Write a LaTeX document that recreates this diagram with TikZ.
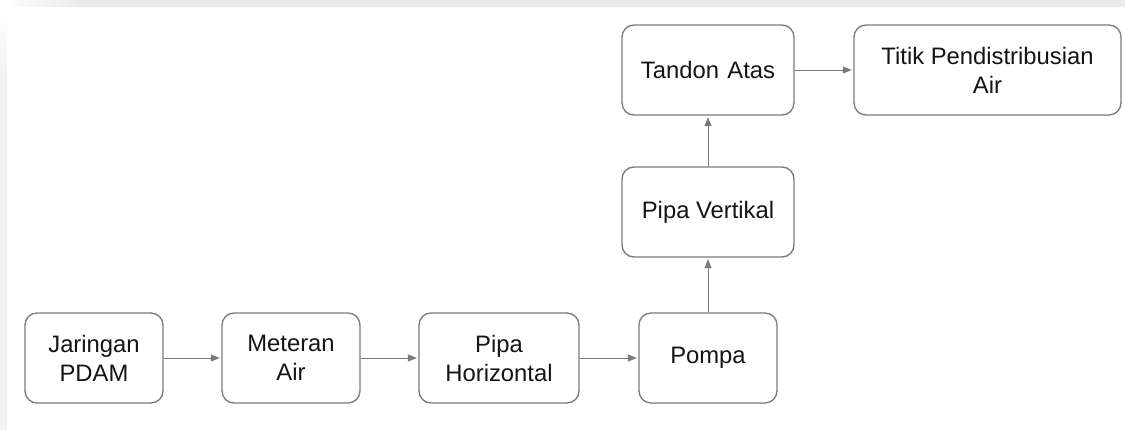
\documentclass[tikz,border=0pt]{standalone}
\usepackage{fontspec}
\setmainfont{Liberation Sans}
\usetikzlibrary{arrows.meta}
\definecolor{boxline}{HTML}{7A7A7A}
\definecolor{arrowline}{HTML}{7A7A7A}
\definecolor{txt}{HTML}{141414}
\definecolor{frame}{HTML}{EBEBEB}
\tikzset{
  x=1pt, y=-1pt,
  stage/.style={draw=boxline, line width=1.3pt, rounded corners=12pt,
    fill=white, text=txt, align=center, inner sep=0pt,
    font=\fontsize{23.8}{29}\selectfont},
  flow/.style={draw=arrowline, line width=0.9pt,
    -{Triangle[length=9pt,width=7pt]}, shorten >=1.5pt}
}
\begin{document}
\begin{tikzpicture}
\useasboundingbox (0,0) rectangle (1125,430);
\fill[white] (0,0) rectangle (1125,430);
% light frame along the top and left edges
\fill[frame] (80,0) rectangle (1125,7);
\shade[left color=white, right color=frame] (0,0) rectangle (80,7);
\shade[top color=white, bottom color=frame!70] (0,7) rectangle (7,80);
\fill[frame!70] (0,80) rectangle (7,430);

\node[stage, minimum width=138pt, minimum height=90pt] (pdam)   at (94,358)  {Jaringan\\PDAM};
\node[stage, minimum width=138pt, minimum height=90pt] (meter)  at (291,358) {Meteran\\Air};
\node[stage, minimum width=160pt, minimum height=90pt] (hpipe)  at (499,358) {Pipa\\Horizontal};
\node[stage, minimum width=138pt, minimum height=90pt] (pump)   at (708,358) {Pompa};
\node[stage, minimum width=172pt, minimum height=90pt] (vpipe)  at (708,212) {Pipa Vertikal};
\node[stage, minimum width=172pt, minimum height=90pt] (tank)   at (708,70)  {Tandon\hspace{0.35em}Atas};
\node[stage, minimum width=267pt, minimum height=90pt] (outlet) at (987.5,70) {Titik Pendistribusian\\Air};

\draw[flow] (pdam) -- (meter);
\draw[flow] (meter) -- (hpipe);
\draw[flow] (hpipe) -- (pump);
\draw[flow] (pump) -- (vpipe);
\draw[flow] (vpipe) -- (tank);
\draw[flow] (tank) -- (outlet);
\end{tikzpicture}
\end{document}
